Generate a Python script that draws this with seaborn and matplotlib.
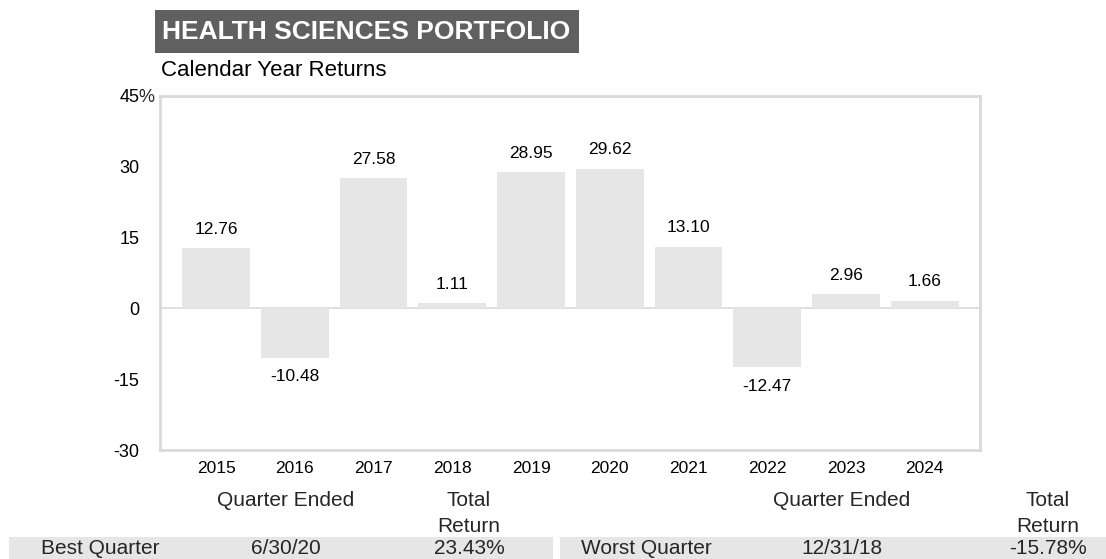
import matplotlib
matplotlib.use("Agg")
import matplotlib.pyplot as plt
import matplotlib.transforms as mtransforms
import seaborn as sns
import pandas as pd
from matplotlib.patches import Rectangle

# ---- data ----
years = ["2015", "2016", "2017", "2018", "2019", "2020", "2021", "2022", "2023", "2024"]
returns = [12.76, -10.48, 27.58, 1.11, 28.95, 29.62, 13.10, -12.47, 2.96, 1.66]
ytick_values = [-30, -15, 0, 15, 30, 45]
ytick_labels = ["-30", "-15", "0", "15", "30", "45"]
top_tick_suffix = "%"
title = "HEALTH SCIENCES PORTFOLIO"
subtitle = "Calendar Year Returns"
col_quarter = "Quarter Ended"
col_total = ["Total", "Return"]
best_label, best_date, best_value = "Best Quarter", "6/30/20", "23.43%"
worst_label, worst_date, worst_value = "Worst Quarter", "12/31/18", "-15.78%"

W, H = 1106, 559

sns.set_theme(style="white")
plt.rcParams['font.family'] = ['Liberation Sans', 'DejaVu Sans']

fig = plt.figure(figsize=(W / 100, H / 100), dpi=100)


def fx(px):
    return px / W


def fy(py):
    return 1 - py / H


ax = fig.add_axes([fx(160), fy(450), fx(980) - fx(160), fy(96) - fy(450)])

df = pd.DataFrame({"year": years, "ret": returns})
sns.barplot(data=df, x="year", y="ret", color="#e6e6e6", saturation=1,
            width=0.86, linewidth=0, ax=ax, errorbar=None)

ax.set_xlim(-0.711, 9.70)
ax.set_ylim(-30, 45)
ax.set_yticks(ytick_values)
ax.set_yticklabels(ytick_labels)
ax.set_xlabel("")
ax.set_ylabel("")
ax.tick_params(axis="both", length=0, labelsize=13, colors="#000000")
ax.tick_params(axis="y", pad=15)
ax.tick_params(axis="x", pad=8, labelsize=12.5)
for s in ax.spines.values():
    s.set_color("#d9d9d9")
    s.set_linewidth(2)
ax.axhline(0, color="#d9d9d9", lw=1.2, zorder=0.5)

# "%" hanging after the top tick label
trans = mtransforms.blended_transform_factory(ax.transAxes, ax.transData)
ax.annotate(top_tick_suffix, xy=(0, ytick_values[-1]), xycoords=trans,
            xytext=(-15.3, 0), textcoords="offset points",
            ha="left", va="center_baseline", fontsize=13, annotation_clip=False)

for i, v in enumerate(returns):
    off = 13.5 if v >= 0 else -13.5
    ax.annotate(f"{v:.2f}", xy=(i, v), xytext=(0, off), textcoords="offset points",
                ha="center", va="center", fontsize=12.5, color="#000000")

# header box
fig.add_artist(Rectangle((fx(155), fy(53)), fx(579) - fx(155), fy(10) - fy(53),
                         transform=fig.transFigure, facecolor="#606060", edgecolor="none"))
fig.text(fx(162), fy(39), title, color="white", fontsize=19, fontweight="bold",
         ha="left", va="baseline")
fig.text(fx(161), fy(76), subtitle, color="black", fontsize=16, ha="left", va="baseline")

# bottom table
fig.add_artist(Rectangle((fx(9), fy(559)), fx(553) - fx(9), fy(537) - fy(559),
                         transform=fig.transFigure, facecolor="#e6e6e6", edgecolor="none"))
fig.add_artist(Rectangle((fx(560), fy(559)), fx(1106) - fx(560), fy(537) - fy(559),
                         transform=fig.transFigure, facecolor="#e6e6e6", edgecolor="none"))

fs = 15
for (xl, xd, xv), (lab, date, val) in [((100, 286, 469), (best_label, best_date, best_value)),
                                        ((646, 842, 1048), (worst_label, worst_date, worst_value))]:
    fig.text(fx(xd), fy(501), col_quarter, fontsize=fs, ha="center", va="center")
    fig.text(fx(xv), fy(501), col_total[0], fontsize=fs, ha="center", va="center")
    fig.text(fx(xv), fy(526), col_total[1], fontsize=fs, ha="center", va="center")
    fig.text(fx(xl), fy(549), lab, fontsize=fs, ha="center", va="center")
    fig.text(fx(xd), fy(549), date, fontsize=fs, ha="center", va="center")
    fig.text(fx(xv), fy(549), val, fontsize=fs, ha="center", va="center")

fig.savefig("out.png", dpi=100)
